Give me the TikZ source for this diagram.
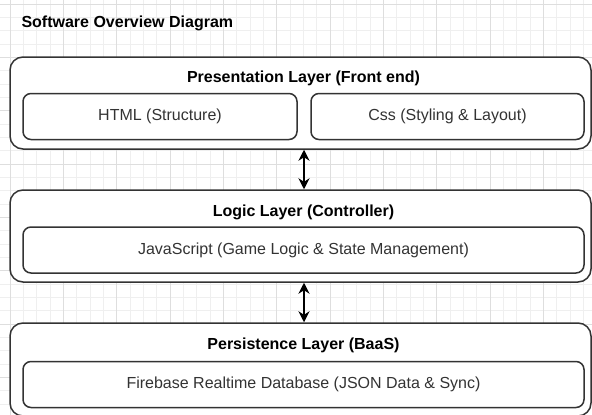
\documentclass[tikz,border=0pt]{standalone}
\usepackage{fontspec}
\setmainfont{Liberation Sans}
\usetikzlibrary{arrows.meta,calc}
\definecolor{gridminor}{HTML}{EFEFEF}
\definecolor{gridmajor}{HTML}{DEDEDE}
\definecolor{boxline}{HTML}{333333}
\definecolor{innertext}{HTML}{333333}
\begin{document}
\begin{tikzpicture}[x=1pt,y=-1pt,
 layer/.style={draw=boxline, line width=1.5pt, fill=white, rounded corners=13pt, minimum width=581pt, minimum height=92pt, inner sep=0pt},
 part/.style={draw=boxline, line width=1.5pt, fill=white, rounded corners=8pt, minimum height=46pt, inner sep=0pt, text=innertext, font=\fontsize{16}{18}\selectfont},
 ltitle/.style={font=\bfseries\fontsize{16}{18}\selectfont},
 link/.style={line width=1.6pt, {Stealth[length=11pt,width=11pt]}-{Stealth[length=11pt,width=11pt]}}]
\useasboundingbox (0,0) rectangle (592,415);
\clip (0,0) rectangle (592,415);
\fill[white] (0,0) rectangle (592,415);
\foreach \i in {0,...,45} \draw[gridminor, line width=0.6pt] ({10+13.333*(\i-1)},0) -- ++(0,415);
\foreach \i in {0,...,32} \draw[gridminor, line width=0.6pt] (0,{4+13.333*(\i-1)}) -- ++(592,0);
\foreach \i in {0,...,11} \draw[gridmajor, line width=0.6pt] ({10+53.333*(\i-1)},0) -- ++(0,415);
\foreach \i in {0,...,8} \draw[gridmajor, line width=0.6pt] (0,{4+53.333*(\i-1)}) -- ++(592,0);

\node[ltitle, anchor=west] (title) at (18,23.5) {Software Overview Diagram};

\node[layer] (pres) at (300.5,103) {};
\node[ltitle] (prest) at (303.5,78.5) {Presentation Layer (Front end)};
\node[part, minimum width=274pt] (html) at (160,116.5) {HTML (Structure)};
\node[part, minimum width=273pt] (css) at (447.5,116.5) {Css (Styling \& Layout)};

\node[layer] (logic) at (300.5,236) {};
\node[ltitle] (logict) at (303.5,212.5) {Logic Layer (Controller)};
\node[part, minimum width=561pt] (js) at (303.5,250) {JavaScript (Game Logic \& State Management)};

\node[layer, minimum height=93pt] (pers) at (300.5,369.5) {};
\node[ltitle] (perst) at (303.5,345.5) {Persistence Layer (BaaS)};
\node[part, minimum width=561pt] (fb) at (303.5,384.5) {Firebase Realtime Database (JSON Data \& Sync)};

\draw[link] (pres.south -| 304,0) -- (logic.north -| 304,0);
\draw[link] (logic.south -| 304,0) -- (pers.north -| 304,0);
\end{tikzpicture}
\end{document}
